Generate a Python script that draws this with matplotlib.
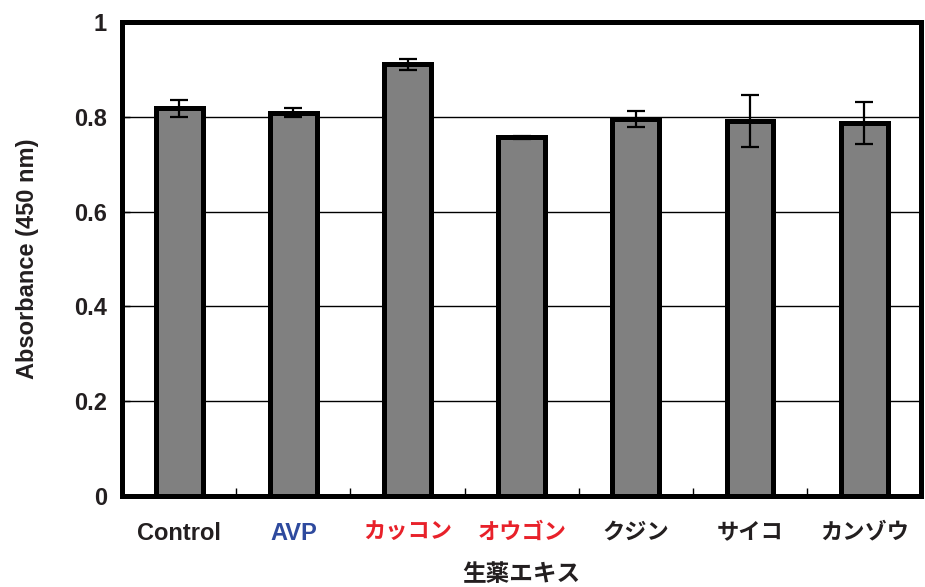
import numpy as np
import matplotlib
matplotlib.use("Agg")
import matplotlib.pyplot as plt
from matplotlib.ticker import FixedLocator

plt.rcParams['font.family'] = ['Liberation Sans', 'Noto Sans CJK JP']
plt.rcParams['font.weight'] = 'bold'

# data
labels = ["Control", "AVP", "カッコン", "オウゴン", "クジン", "サイコ", "カンゾウ"]
values = [0.818, 0.809, 0.911, 0.757, 0.796, 0.791, 0.787]
errors = [0.018, 0.010, 0.012, 0.003, 0.017, 0.055, 0.045]
label_colors = ["#231f20", "#2e4a9e", "#e8212a", "#e8212a", "#231f20", "#231f20", "#231f20"]
yticks = [0, 0.2, 0.4, 0.6, 0.8, 1]

fig = plt.figure(figsize=(9.25, 5.87), dpi=100)
ax = fig.add_axes([0.132, 0.155, 0.864, 0.8075])

x = np.arange(len(labels))
ax.bar(x, values, width=0.41, color="#808080", edgecolor="black", linewidth=3.6, zorder=3)
ax.errorbar(x, values, yerr=errors, fmt="none", ecolor="black", elinewidth=1.6,
            capsize=6.5, capthick=1.6, zorder=4)

ax.set_xlim(-0.5, len(labels) - 0.5)
ax.set_ylim(0, 1)
ax.set_yticks(yticks)
ax.set_yticklabels(["%g" % t for t in yticks], fontsize=17, fontweight="bold", color="#231f20")
ax.yaxis.grid(True, color="black", linewidth=1.0, zorder=0)
ax.set_axisbelow(True)

ax.set_xticks(x)
ax.set_xticklabels(labels, fontweight="bold")
for t, c, lab in zip(ax.get_xticklabels(), label_colors, labels):
    t.set_color(c)
    t.set_fontsize(17 if lab.isascii() else 16)
ax.xaxis.set_minor_locator(FixedLocator(np.arange(0.5, len(labels) - 0.5, 1)))
ax.tick_params(axis="x", which="major", length=0, pad=19)
ax.tick_params(axis="x", which="minor", direction="in", length=6, width=1, color="black")
ax.tick_params(axis="y", which="major", direction="in", length=6, width=1, pad=11)

for s in ax.spines.values():
    s.set_linewidth(3.6)
    s.set_color("black")

ax.set_xlabel("生薬エキス", fontsize=17, fontweight="bold", color="#231f20", labelpad=13)
ax.set_ylabel("Absorbance (450 nm)", fontsize=17, fontweight="bold", color="#231f20", labelpad=25)

fig.savefig("out.png", dpi=100)
